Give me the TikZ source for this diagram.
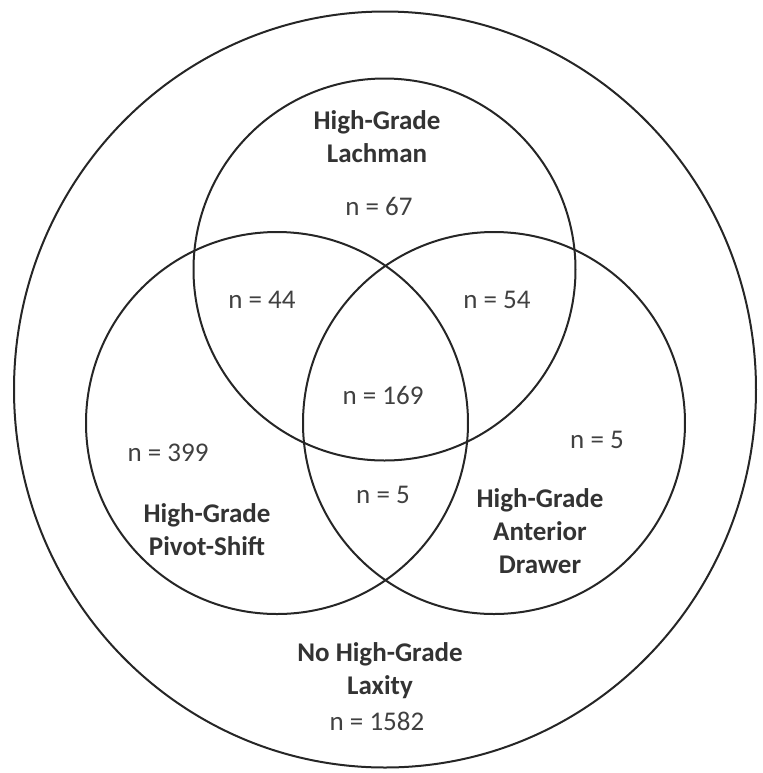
\documentclass[tikz,border=0pt]{standalone}
\usepackage{fontspec}
\setmainfont{Carlito}
\usetikzlibrary{shapes.geometric}

\begin{document}
\begin{tikzpicture}[
    x=0.5pt, y=-0.5pt,
    set/.style={
        circle,
        draw=black!85,
        line width=1pt,
        minimum size=191pt,
        inner sep=0pt
    },
    universe/.style={
        ellipse,
        draw=black!85,
        line width=1pt,
        minimum width=371pt,
        minimum height=378pt,
        inner sep=0pt
    },
    title/.style={
        font=\bfseries\fontsize{13.5}{16.5}\selectfont,
        text=black!80,
        align=center
    },
    count/.style={
        font=\fontsize{13.5}{16}\selectfont,
        text=black!75
    }
]
    \useasboundingbox (0,0) rectangle (763,773);

    % Sets
    \node[universe] (all) at (385,389.5) {};
    \node[set] (lachman) at (384.5,269.5) {};
    \node[set] (pivot) at (277,423) {};
    \node[set] (drawer) at (494,423) {};

    % Set titles
    \node[title] (t_lachman) at (377,137) {High-Grade\\Lachman};
    \node[title] (t_pivot) at (207,530) {High-Grade\\Pivot-Shift};
    \node[title] (t_drawer) at (540,531) {High-Grade\\Anterior\\Drawer};
    \node[title] (t_none) at (380,671) {No High-Grade\\Laxity};

    % Counts
    \node[count] (n_lachman) at (379,206) {n = 67};
    \node[count] (n_lp) at (262,300) {n = 44};
    \node[count] (n_ld) at (497,300) {n = 54};
    \node[count] (n_all) at (383,395) {n = 169};
    \node[count] (n_pivot) at (168,453) {n = 399};
    \node[count] (n_pd) at (383,495) {n = 5};
    \node[count] (n_drawer) at (597,440) {n = 5};
    \node[count] (n_none) at (377,721) {n = 1582};

\end{tikzpicture}
\end{document}
